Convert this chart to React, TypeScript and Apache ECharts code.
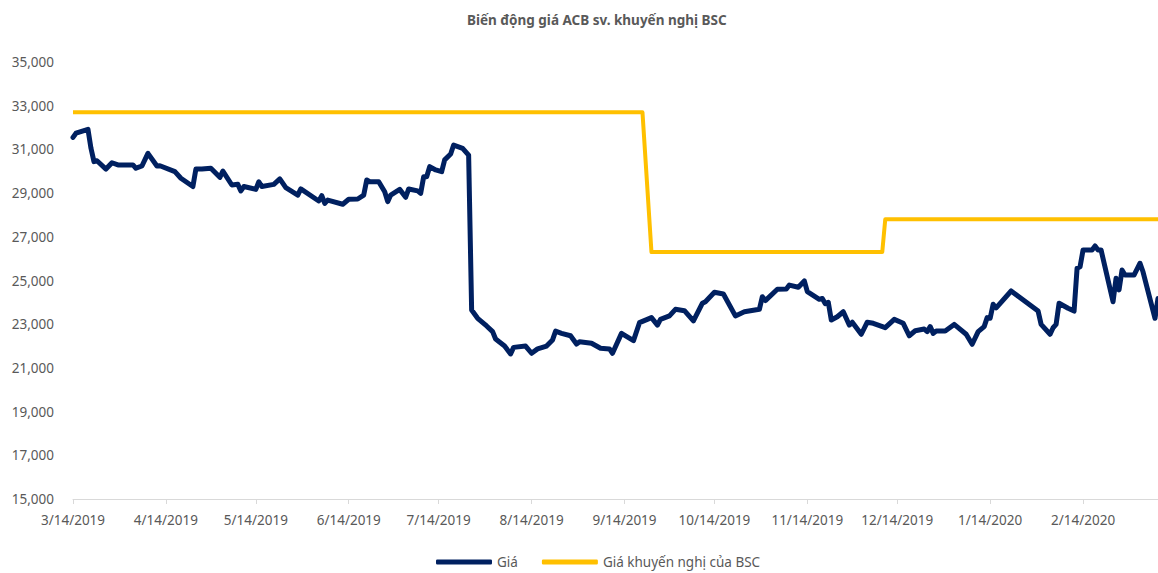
import React, { useEffect, useRef } from "react";
import * as echarts from "echarts";

const titleText = "Biến động giá ACB sv. khuyến nghị BSC";
const seriesNames = ["Giá", "Giá khuyến nghị của BSC"];

const priceDates = [
  "2019-03-14","2019-03-15","2019-03-19","2019-03-20","2019-03-21","2019-03-22","2019-03-25","2019-03-27","2019-03-29",
  "2019-04-03","2019-04-04","2019-04-06","2019-04-08","2019-04-11","2019-04-12","2019-04-17","2019-04-19","2019-04-23",
  "2019-04-24","2019-04-26","2019-04-29","2019-05-02","2019-05-03","2019-05-06","2019-05-08","2019-05-09","2019-05-10",
  "2019-05-14","2019-05-15","2019-05-16","2019-05-20","2019-05-22","2019-05-24","2019-05-28","2019-05-29","2019-06-04",
  "2019-06-05","2019-06-06","2019-06-07","2019-06-12","2019-06-14","2019-06-17","2019-06-19","2019-06-20","2019-06-21",
  "2019-06-24","2019-06-26","2019-06-27","2019-06-28","2019-07-01","2019-07-03","2019-07-04","2019-07-07","2019-07-08",
  "2019-07-09","2019-07-10","2019-07-11","2019-07-13","2019-07-15","2019-07-16","2019-07-18","2019-07-19","2019-07-22",
  "2019-07-24","2019-07-25","2019-07-27","2019-07-30","2019-08-01","2019-08-02","2019-08-05","2019-08-07","2019-08-08",
  "2019-08-12","2019-08-14","2019-08-16","2019-08-19","2019-08-21","2019-08-22","2019-08-24","2019-08-27","2019-08-29",
  "2019-08-30","2019-09-03","2019-09-06","2019-09-09","2019-09-10","2019-09-13","2019-09-17","2019-09-19","2019-09-23",
  "2019-09-25","2019-09-26","2019-09-29","2019-10-01","2019-10-04","2019-10-07","2019-10-10","2019-10-11","2019-10-14",
  "2019-10-17","2019-10-21","2019-10-24","2019-10-29","2019-10-30","2019-10-31","2019-11-04","2019-11-07","2019-11-08",
  "2019-11-11","2019-11-13","2019-11-14","2019-11-18","2019-11-19","2019-11-20","2019-11-21","2019-11-22","2019-11-24",
  "2019-11-26","2019-11-28","2019-11-29","2019-12-02","2019-12-04","2019-12-06","2019-12-10","2019-12-13","2019-12-16",
  "2019-12-18","2019-12-20","2019-12-23","2019-12-24","2019-12-25","2019-12-26","2019-12-27","2019-12-30","2020-01-02",
  "2020-01-06","2020-01-08","2020-01-10","2020-01-12","2020-01-13","2020-01-14","2020-01-15","2020-01-16","2020-01-21",
  "2020-01-30","2020-01-31","2020-02-03","2020-02-04","2020-02-05","2020-02-06","2020-02-09","2020-02-11","2020-02-12",
  "2020-02-13","2020-02-14","2020-02-17","2020-02-18","2020-02-19","2020-02-20","2020-02-24","2020-02-25","2020-02-26",
  "2020-02-27","2020-02-28","2020-03-02","2020-03-04","2020-03-05","2020-03-09","2020-03-10"
];

const priceValues = [
  31550,31740,31920,31050,30440,30480,30100,30390,30290,
  30290,30140,30240,30820,30240,30250,29980,29680,29300,
  30100,30100,30140,29720,30010,29370,29400,29100,29300,
  29170,29520,29300,29400,29650,29250,28910,29190,28640,
  28880,28530,28680,28490,28720,28730,28910,29600,29520,
  29520,29060,28610,28910,29170,28810,29190,29100,28990,
  29750,29750,30210,30060,29980,30520,30790,31200,31050,
  30740,23650,23270,22920,22660,22320,22000,21640,21940,
  22000,21670,21870,22000,22280,22680,22580,22470,22090,
  22200,22130,21900,21870,21670,22580,22250,23070,23300,
  22960,23220,23380,23680,23620,23150,23960,24030,24460,
  24380,23380,23570,23680,24260,24080,24600,24610,24790,
  24690,24980,24490,24140,24180,23940,24000,23190,23340,
  23570,22960,23090,22540,23090,23040,22840,23220,23040,
  22470,22700,22780,22660,22890,22580,22690,22690,22990,
  22540,22080,22660,22890,23300,23270,23910,23750,24520,
  23600,22990,22540,22840,22990,23960,23730,23600,25560,
  25630,26400,26400,26580,26400,26400,24030,25100,24570,
  25480,25250,25250,25790,25400,23270,24180
];

const targetDates = ["2019-03-14", "2019-09-20", "2019-09-23", "2019-12-09", "2019-12-10", "2020-03-10"];
const targetValues = [32700, 32700, 26300, 26300, 27800, 27800];

const tickDates = [
  "2019-03-14","2019-04-14","2019-05-14","2019-06-14","2019-07-14","2019-08-14",
  "2019-09-14","2019-10-14","2019-11-14","2019-12-14","2020-01-14","2020-02-14"
];

const axisStart = "2019-03-14";
const axisEnd = "2020-03-10";
const yMin = 15000;
const yMax = 35000;
const yStep = 2000;

function ts(s: string): number {
  const [y, m, d] = s.split("-").map(Number);
  return new Date(y, m - 1, d).getTime();
}

export default function App() {
  const ref = useRef<HTMLDivElement>(null);
  useEffect(() => {
    if (!ref.current) return;
    const chart = echarts.init(ref.current, undefined, { renderer: "svg" });
    const font = "'Noto Sans', 'Open Sans', sans-serif";
    const ticks = tickDates.map(ts);
    chart.setOption({
      animation: false,
      backgroundColor: "#ffffff",
      title: {
        text: titleText,
        left: 462,
        top: 8,
        textStyle: { fontFamily: font, fontSize: 13.5, fontWeight: "bold", color: "#595959" },
      },
      grid: { left: 73, right: 0, top: 62, bottom: 74, containLabel: false },
      legend: {
        left: 434,
        top: 553,
        padding: 2,
        icon: "roundRect",
        itemWidth: 56,
        itemHeight: 5,
        itemGap: 24,
        textStyle: { fontFamily: font, fontSize: 13.5, lineHeight: 14, color: "#595959" },
        data: seriesNames,
      },
      xAxis: {
        type: "value",
        min: ts(axisStart),
        max: ts(axisEnd),
        axisLine: { show: true, lineStyle: { color: "#d9d9d9", width: 1 } },
        axisTick: {
          show: true,
          customValues: ticks,
          length: 5,
          lineStyle: { color: "#d9d9d9" },
        },
        axisLabel: {
          customValues: ticks,
          margin: 14,
          fontFamily: font,
          fontSize: 13.5,
          color: "#595959",
          formatter: (v: number) => {
            const d = new Date(v);
            return `${d.getMonth() + 1}/${d.getDate()}/${d.getFullYear()}`;
          },
        },
        splitLine: { show: false },
      },
      yAxis: {
        type: "value",
        min: yMin,
        max: yMax,
        interval: yStep,
        axisLine: { show: false },
        axisTick: { show: false },
        splitLine: { show: false },
        axisLabel: {
          margin: 19,
          fontFamily: font,
          fontSize: 13.5,
          color: "#595959",
          formatter: (v: number) => v.toLocaleString("en-US"),
        },
      },
      series: [
        {
          name: seriesNames[0],
          type: "line",
          showSymbol: false,
          symbol: "none",
          color: "#002060",
          lineStyle: { width: 5, color: "#002060", join: "round", cap: "round" },
          data: priceDates.map((d, i) => [ts(d), priceValues[i]]),
        },
        {
          name: seriesNames[1],
          type: "line",
          showSymbol: false,
          symbol: "none",
          color: "#FFC000",
          lineStyle: { width: 4, color: "#FFC000", join: "round" },
          data: targetDates.map((d, i) => [ts(d), targetValues[i]]),
        },
      ],
    });
    return () => chart.dispose();
  }, []);
  return (
    <div
      ref={ref}
      style={{ position: "fixed", left: 0, top: 0, width: 1158, height: 573, background: "#fff" }}
    />
  );
}
